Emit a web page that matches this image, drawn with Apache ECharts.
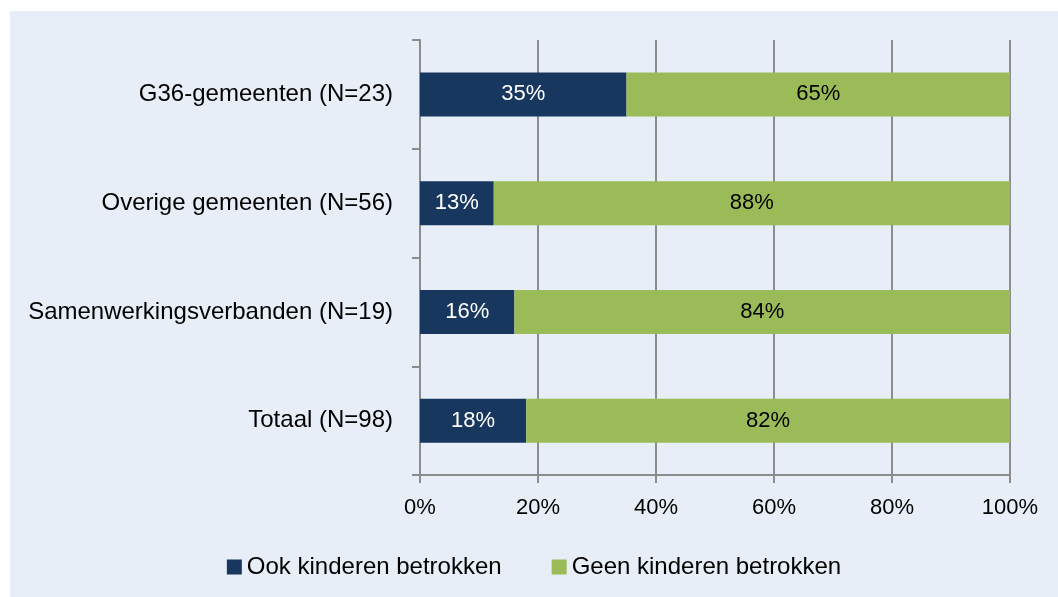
<!DOCTYPE html>
<html>
<head>
<meta charset="UTF-8">
<title>Kinderen betrokken</title>
<script type="text/javascript" src="https://cdn.jsdelivr.net/npm/echarts@6/dist/echarts.min.js"></script>
<style>
  body { margin: 0; background: #ffffff; }
  #main { position: absolute; left: 10px; top: 11px; width: 1048px; height: 586px; background: #E8EEF7; }
</style>
</head>
<body>
<div id="main"></div>

<script type="text/javascript">
    // data
    var categories = ['G36-gemeenten (N=23)', 'Overige gemeenten (N=56)', 'Samenwerkingsverbanden (N=19)', 'Totaal (N=98)'];
    var ookKinderen = [35, 12.5, 16, 18];
    var geenKinderen = [65, 87.5, 84, 82];
    var seriesNames = ['Ook kinderen betrokken', 'Geen kinderen betrokken'];

    var fontFam = '"Liberation Sans", Arial, sans-serif';
    var gray = '#8c8c8c';
    var fs = 24;

    var myChart = echarts.init(document.getElementById('main'));

    function pct(p) {
        return Math.round(p.value) + '%';
    }

    var option = {
        animation: false,
        textStyle: { fontFamily: fontFam },
        grid: {
            left: 410,
            right: 48,
            top: 29,
            bottom: 122,
            containLabel: false
        },
        legend: {
            data: seriesNames,
            left: 'center',
            top: 539,
            icon: 'rect',
            itemWidth: 15,
            itemHeight: 15,
            itemGap: 50,
            textStyle: { fontSize: fs, color: '#000', fontFamily: fontFam }
        },
        xAxis: {
            type: 'value',
            min: 0,
            max: 100,
            interval: 20,
            axisLine: { show: true, lineStyle: { color: gray, width: 2 } },
            axisTick: { show: true, length: 8, lineStyle: { color: gray, width: 2 } },
            splitLine: { show: true, lineStyle: { color: gray, width: 2 } },
            axisLabel: {
                formatter: '{value}%',
                margin: 22,
                fontSize: 22,
                color: '#000',
                fontFamily: fontFam
            }
        },
        yAxis: {
            type: 'category',
            data: categories,
            inverse: true,
            axisLine: { show: true, lineStyle: { color: gray, width: 2 } },
            axisTick: { show: true, length: 8, alignWithLabel: false, lineStyle: { color: gray, width: 2 } },
            axisLabel: {
                margin: 27,
                fontSize: fs,
                color: '#000',
                fontFamily: fontFam
            }
        },
        series: [
            {
                name: seriesNames[0],
                type: 'bar',
                stack: 'total',
                data: ookKinderen,
                barWidth: 44,
                itemStyle: { color: '#17375E' },
                label: {
                    show: true,
                    position: 'inside',
                    formatter: pct,
                    color: '#fff',
                    fontSize: 22,
                    fontFamily: fontFam
                }
            },
            {
                name: seriesNames[1],
                type: 'bar',
                stack: 'total',
                data: geenKinderen,
                barWidth: 44,
                itemStyle: { color: '#9BBB59' },
                label: {
                    show: true,
                    position: 'inside',
                    formatter: pct,
                    color: '#000',
                    fontSize: 22,
                    fontFamily: fontFam
                }
            }
        ]
    };

    myChart.setOption(option);
</script>
</body>
</html>
